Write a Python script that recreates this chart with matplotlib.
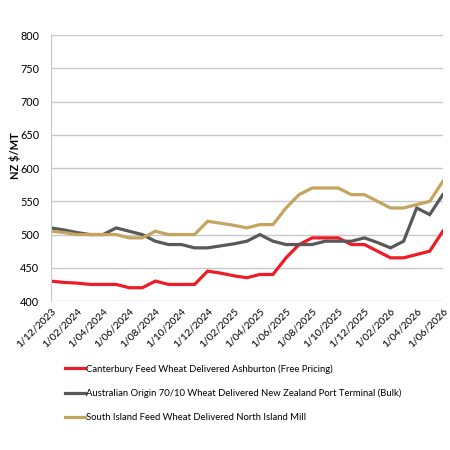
import matplotlib.pyplot as plt
import numpy as np

plt.rcParams['font.family'] = ['Lato', 'DejaVu Sans']

# monthly points, 1/12/2023 .. 1/06/2026
months = ['1/12/2023', '1/01/2024', '1/02/2024', '1/03/2024', '1/04/2024', '1/05/2024',
          '1/06/2024', '1/07/2024', '1/08/2024', '1/09/2024', '1/10/2024', '1/11/2024',
          '1/12/2024', '1/01/2025', '1/02/2025', '1/03/2025', '1/04/2025', '1/05/2025',
          '1/06/2025', '1/07/2025', '1/08/2025', '1/09/2025', '1/10/2025', '1/11/2025',
          '1/12/2025', '1/01/2026', '1/02/2026', '1/03/2026', '1/04/2026', '1/05/2026',
          '1/06/2026']

canterbury = [430, 428, 427, 425, 425, 425, 420, 420, 430, 425, 425, 425,
              445, 442, 438, 435, 440, 440, 465, 485, 495, 495, 495, 485,
              485, 475, 465, 465, 470, 475, 505]
australian = [510, 507, 503, 500, 500, 510, 505, 500, 490, 485, 485, 480,
              480, 483, 486, 490, 500, 490, 485, 485, 485, 490, 490, 490,
              495, 488, 480, 490, 540, 530, 560]
south_island = [505, 503, 500, 500, 500, 500, 495, 495, 505, 500, 500, 500,
                520, 517, 514, 510, 515, 515, 540, 560, 570, 570, 570, 560,
                560, 550, 540, 540, 545, 550, 580]

labels = ['Canterbury Feed Wheat Delivered Ashburton (Free Pricing)',
          'Australian Origin 70/10 Wheat Delivered New Zealand Port Terminal (Bulk)',
          'South Island Feed Wheat Delivered North Island Mill']
colors = ['#EE1C25', '#595959', '#C4A45F']

x = np.arange(len(months))

fig = plt.figure(figsize=(4.5, 4.5), dpi=100)
ax = fig.add_axes([0.113, 0.331, 0.871, 0.591])

for series, lab, col in zip([canterbury, australian, south_island], labels, colors):
    ax.plot(x, series, color=col, lw=2.3, label=lab, solid_joinstyle='miter')

ax.set_xlim(0, len(months) - 1)
ax.set_ylim(400, 800)
ax.set_yticks(range(400, 801, 50))
ax.set_xticks(x[::2])
ax.set_xticklabels(months[::2], rotation=45, ha='right', rotation_mode='anchor', fontsize=7.5)
ax.tick_params(axis='x', length=0, pad=4)
ax.tick_params(axis='y', length=0, labelsize=7.8, pad=8.5)
ax.yaxis.grid(True, color='#C8C8C8', lw=1)
ax.set_axisbelow(True)
for s in ['top', 'right', 'bottom']:
    ax.spines[s].set_visible(False)
ax.spines['left'].set_color('#C8C8C8')
ax.set_ylabel('NZ $/MT', fontsize=8, fontweight='bold')
ax.yaxis.set_label_coords(-0.077, 0.545)

fig.legend(loc='upper left', bbox_to_anchor=(0.144, 0.191), frameon=False,
           fontsize=6.8, handlelength=2.1, handletextpad=0.1, labelspacing=1.6,
           borderaxespad=0, borderpad=0)

fig.savefig('out.png', dpi=100)
